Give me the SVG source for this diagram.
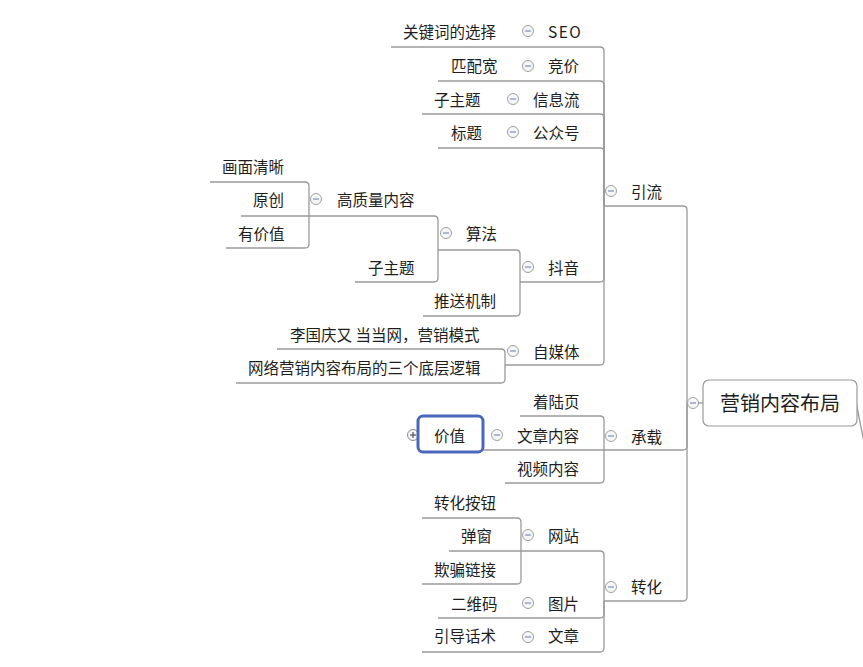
<svg xmlns="http://www.w3.org/2000/svg" width="863" height="667" viewBox="0 0 863 667">
<defs>
<style>
text{font-family:"Microsoft YaHei","Noto Sans CJK SC","Noto Sans",sans-serif;font-size:15.5px;fill:#1e1e1e}
.c{fill:none;stroke:#9a9a9a;stroke-width:1.3}
</style>
<g id="minus"><circle cx="0" cy="0" r="5.5" fill="#f6f6f6" stroke="#a0a0a0" stroke-width="1"/><line x1="-3" y1="0" x2="3" y2="0" stroke="#8090b8" stroke-width="1.2"/></g>
<g id="plus"><circle cx="0" cy="0" r="5.5" fill="#f6f6f6" stroke="#8a8a8a" stroke-width="1"/><line x1="-3" y1="0" x2="3" y2="0" stroke="#555" stroke-width="1.2"/><line x1="0" y1="-3" x2="0" y2="3" stroke="#555" stroke-width="1.2"/></g>
</defs>
<rect width="863" height="667" fill="#fff"/>
<g id="connectors" class="c">
<path d="M604,206 H683 Q687,206 687,210 V403"/>
<path d="M483,450 H683 Q687,450 687,446 V403"/>
<path d="M604,601 H683 Q687,601 687,597 V403"/>
<path d="M687,403 H703"/>
<path d="M856,402 L866,452"/>
<path d="M391,47 H600 Q604,47 604,51 V206"/>
<path d="M438,81 H600 Q604,81 604,85 V206"/>
<path d="M422,114 H600 Q604,114 604,118 V206"/>
<path d="M438,148 H600 Q604,148 604,152 V206"/>
<path d="M520,282 H600 Q604,282 604,278 V206"/>
<path d="M505,365 H600 Q604,365 604,361 V206"/>
<path d="M438,250 H516 Q520,250 520,254 V282"/>
<path d="M423,316 H516 Q520,316 520,312 V282"/>
<path d="M241,216 H434 Q438,216 438,220 V250"/>
<path d="M355,282 H434 Q438,282 438,278 V250"/>
<path d="M210,182 H305 Q309,182 309,186 V216"/>
<path d="M226,248 H305 Q309,248 309,244 V216"/>
<path d="M277,349 H501 Q505,349 505,353 V365"/>
<path d="M236,383 H501 Q505,383 505,379 V365"/>
<path d="M520,416 H600 Q604,416 604,420 V450"/>
<path d="M505,483 H600 Q604,483 604,479 V450"/>
<path d="M449,551 H600 Q604,551 604,555 V601"/>
<path d="M438,618 H600 Q604,618 604,614 V601"/>
<path d="M422,652 H600 Q604,652 604,648 V601"/>
<path d="M422,518 H517 Q521,518 521,522 V551"/>
<path d="M422,584 H517 Q521,584 521,580 V551"/>
</g>
<g id="toggles">
<use href="#minus" x="693" y="403"/>
<use href="#minus" x="611" y="191"/>
<use href="#minus" x="611" y="436"/>
<use href="#minus" x="611" y="587"/>
<use href="#minus" x="528" y="31"/>
<use href="#minus" x="528" y="66"/>
<use href="#minus" x="513" y="99"/>
<use href="#minus" x="513" y="132"/>
<use href="#minus" x="528" y="267"/>
<use href="#minus" x="513" y="351"/>
<use href="#minus" x="446" y="233"/>
<use href="#minus" x="316" y="199"/>
<use href="#minus" x="497" y="435"/>
<use href="#minus" x="528" y="535"/>
<use href="#minus" x="528" y="603"/>
<use href="#minus" x="528" y="637"/>
<use href="#plus" x="413" y="435"/>
</g>
<g id="root"><rect x="703" y="380" width="154" height="46" rx="6" fill="#fff" stroke="#999" stroke-width="1.2"/><text x="780" y="411" style="font-size:20px" text-anchor="middle">营销内容布局</text></g>
<g id="yinliu"><text x="631" y="198">引流</text></g>
<g id="chengzai"><text x="631" y="443">承载</text></g>
<g id="zhuanhua"><text x="631" y="593">转化</text></g>
<g id="seo"><text x="548" y="38" style="letter-spacing:1.5px">SEO</text></g>
<g id="kw"><text x="403" y="38">关键词的选择</text></g>
<g id="jingjia"><text x="548" y="72">竞价</text></g>
<g id="ppk"><text x="451" y="72">匹配宽</text></g>
<g id="xxl"><text x="533" y="106">信息流</text></g>
<g id="zzt1"><text x="434" y="106">子主题</text></g>
<g id="gzh"><text x="533" y="139">公众号</text></g>
<g id="bt"><text x="451" y="139">标题</text></g>
<g id="douyin"><text x="548" y="274">抖音</text></g>
<g id="suanfa"><text x="466" y="240">算法</text></g>
<g id="tsjz"><text x="434" y="307">推送机制</text></g>
<g id="gzlnr"><text x="337" y="206">高质量内容</text></g>
<g id="zzt2"><text x="368" y="274">子主题</text></g>
<g id="hmqx"><text x="222" y="173">画面清晰</text></g>
<g id="yc"><text x="253" y="206">原创</text></g>
<g id="yjz"><text x="238" y="240">有价值</text></g>
<g id="zmt"><text x="533" y="358">自媒体</text></g>
<g id="lgq"><text x="290" y="341">李国庆又 当当网，营销模式</text></g>
<g id="wlyx"><text x="248" y="374">网络营销内容布局的三个底层逻辑</text></g>
<g id="zly"><text x="533" y="408">着陆页</text></g>
<g id="wznr"><text x="517" y="442">文章内容</text></g>
<g id="jiazhi"><rect x="418" y="416" width="65" height="36" rx="5" fill="#fff" stroke="#4a68bb" stroke-width="3"/><text x="434" y="442">价值</text></g>
<g id="spnr"><text x="517" y="475">视频内容</text></g>
<g id="wangzhan"><text x="548" y="542">网站</text></g>
<g id="zhan"><text x="434" y="509">转化按钮</text></g>
<g id="tc"><text x="461" y="542">弹窗</text></g>
<g id="qplj"><text x="434" y="576">欺骗链接</text></g>
<g id="tupian"><text x="548" y="610">图片</text></g>
<g id="ewm"><text x="451" y="610">二维码</text></g>
<g id="wenzhang"><text x="548" y="642">文章</text></g>
<g id="ydhs"><text x="434" y="642">引导话术</text></g>
</svg>
